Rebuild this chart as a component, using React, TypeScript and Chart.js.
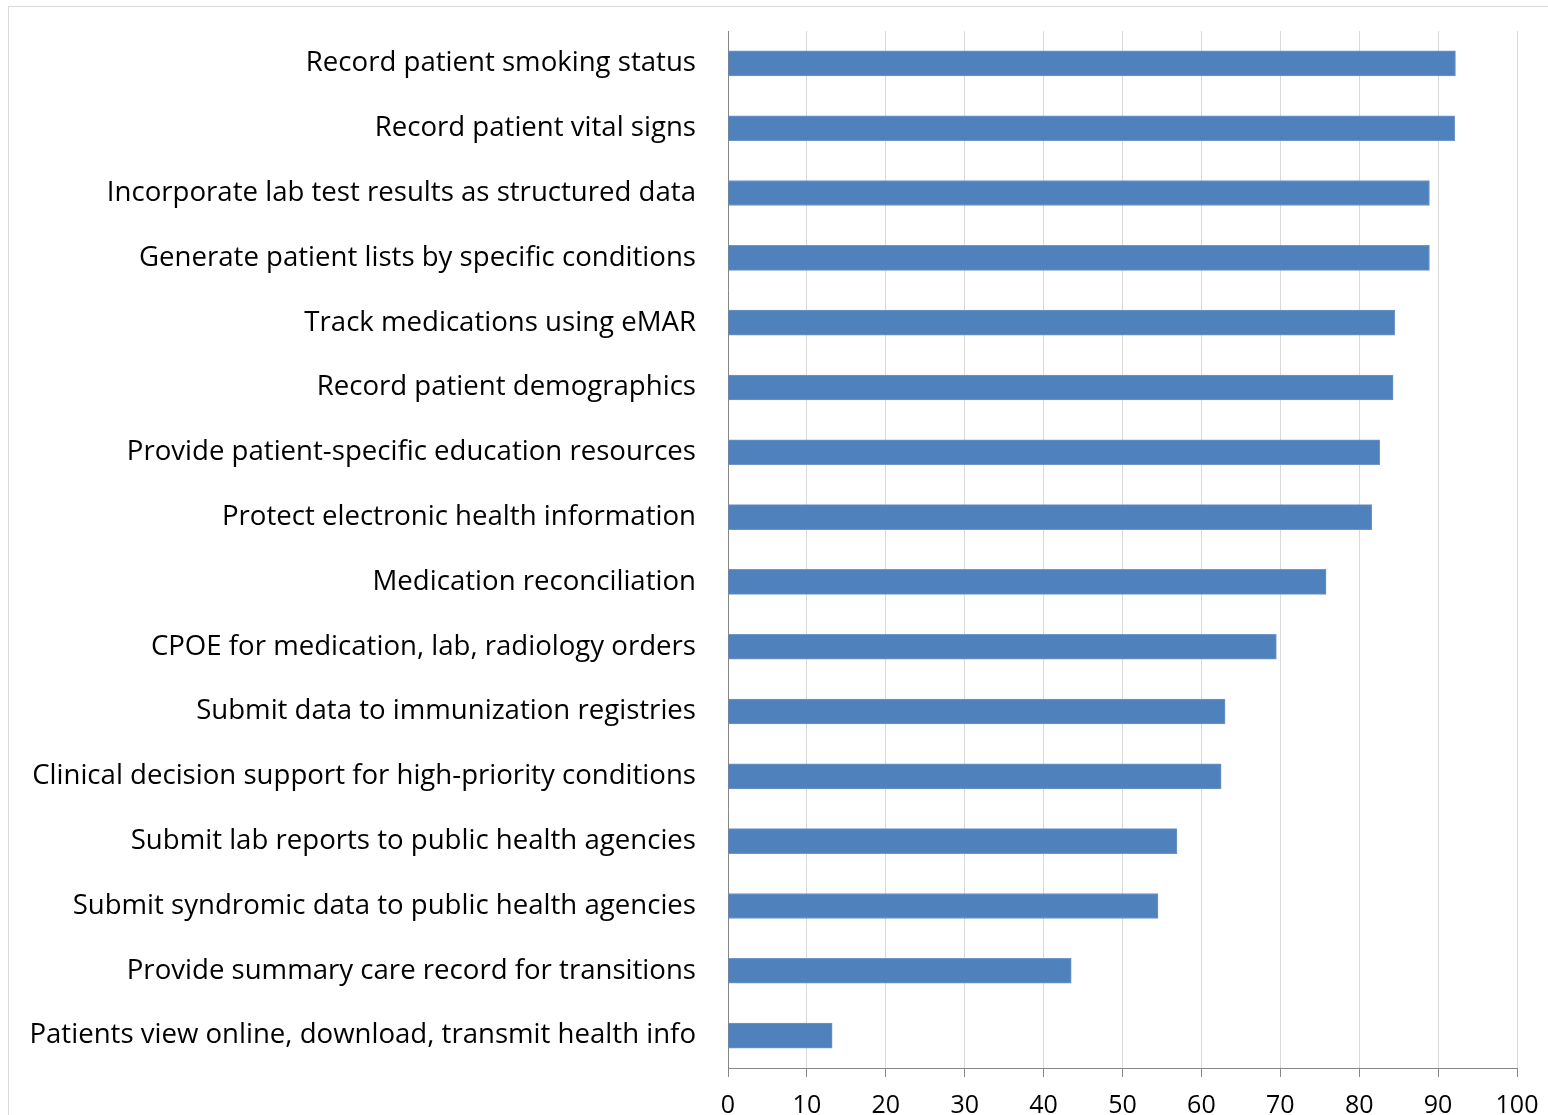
import React, { useEffect, useRef } from "react";
import { Chart, registerables } from "chart.js";

Chart.register(...registerables);

const categories = [
  "Record patient smoking status",
  "Record patient vital signs",
  "Incorporate lab test results as structured data",
  "Generate patient lists by specific conditions",
  "Track medications using eMAR",
  "Record patient demographics",
  "Provide patient-specific education resources",
  "Protect electronic health information",
  "Medication reconciliation",
  "CPOE for medication, lab, radiology orders",
  "Submit data to immunization registries",
  "Clinical decision support for high-priority conditions",
  "Submit lab reports to public health agencies",
  "Submit syndromic data to public health agencies",
  "Provide summary care record for transitions",
  "Patients view online, download, transmit health info",
];

const values = [92.2, 92.1, 88.9, 88.9, 84.5, 84.3, 82.6, 81.6, 75.8, 69.5, 63.0, 62.5, 56.9, 54.5, 43.5, 13.2];

const xMin = 0;
const xMax = 100;
const xStep = 10;

export default function App() {
  const ref = useRef<HTMLCanvasElement>(null);
  useEffect(() => {
    const FONT = "'Open Sans', sans-serif";
    const chart = new Chart(ref.current!, {
      type: "bar",
      data: {
        labels: categories,
        datasets: [
          {
            data: values,
            backgroundColor: "#4F81BD",
            borderColor: "#6f96c8",
            borderWidth: 1,
            barThickness: 25,
          },
        ],
      },
      options: {
        indexAxis: "y",
        animation: false,
        responsive: false,
        maintainAspectRatio: false,
        layout: { padding: { top: 31, right: 31, left: 0, bottom: 0 } },
        plugins: { legend: { display: false }, tooltip: { enabled: false } },
        scales: {
          x: {
            min: xMin,
            max: xMax,
            ticks: {
              stepSize: xStep,
              color: "#000",
              font: { family: FONT, size: 25 },
              padding: 14,
            },
            grid: {
              color: "#d9d9d9",
              lineWidth: 1,
              tickLength: 9,
              tickColor: "#868686",
            },
            border: { color: "#868686", width: 1 },
            afterFit: (s: any) => {
              s.height = 47;
              s.paddingLeft = 0;
              s.paddingRight = 0;
            },
          },
          y: {
            ticks: {
              color: "#000",
              font: { family: FONT, size: 27.6 },
              padding: 32,
              autoSkip: false,
            },
            grid: { display: true, drawOnChartArea: false, drawTicks: false, color: "transparent" },
            border: { color: "#868686", width: 1, display: true },
            afterFit: (s: any) => {
              s.width = 728;
              s.paddingTop = 0;
              s.paddingBottom = 0;
            },
          },
        },
      },
    });
    return () => chart.destroy();
  }, []);
  return (
    <>
      <div
        style={{
          position: "fixed",
          left: 8,
          top: 6,
          width: 1700,
          height: 1300,
          border: "1px solid #d9d9d9",
          boxSizing: "border-box",
        }}
      />
      <canvas
        ref={ref}
        width={1548}
        height={1115}
        style={{ position: "fixed", left: 0, top: 0, width: 1548, height: 1115 }}
      />
    </>
  );
}
